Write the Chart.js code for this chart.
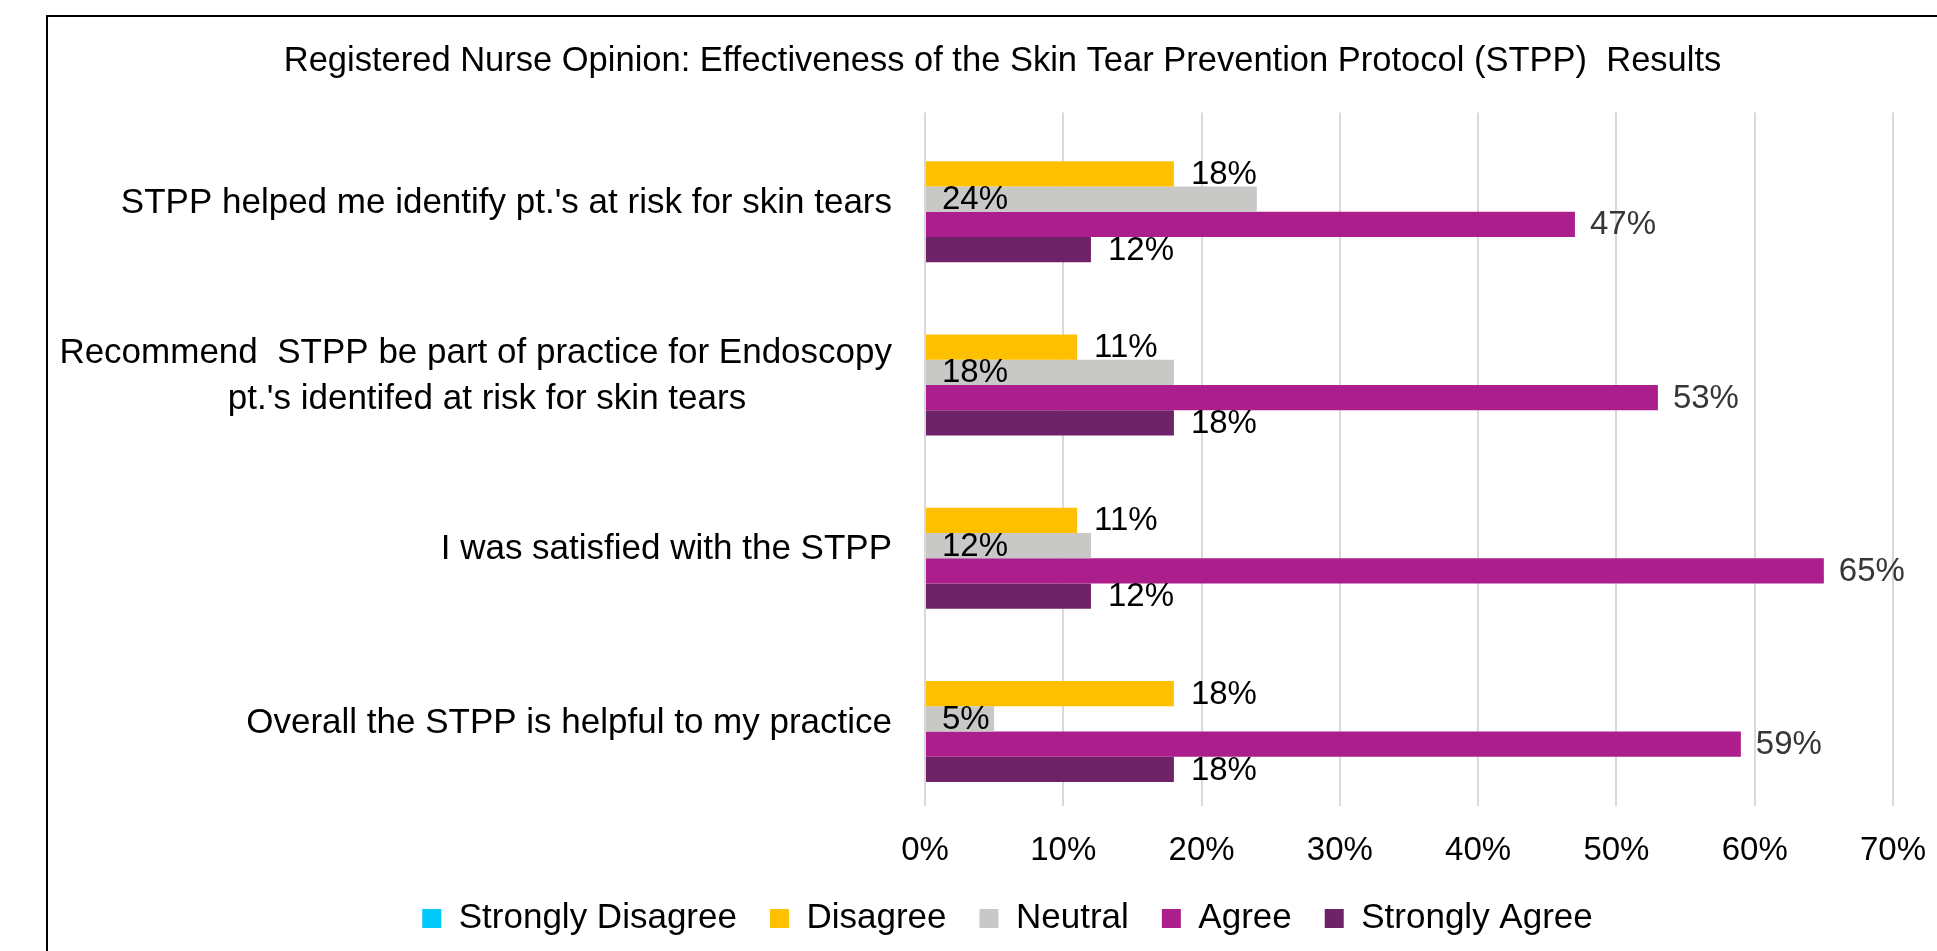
<!DOCTYPE html>
<html>
<head>
<meta charset="utf-8">
<title>STPP Results</title>
<script src="https://cdn.jsdelivr.net/npm/chart.js@4.4.1/dist/chart.umd.min.js"></script>
<style>
    html, body { margin: 0; padding: 0; background: #fff; overflow: hidden; }
    #frame { position: absolute; left: 46px; top: 15px; width: 2000px; height: 1000px; border: 2px solid #000; }
    #wrap { position: absolute; left: 0; top: 0; width: 1937px; height: 951px; }
</style>
</head>
<body>
<div id="frame"></div>
<div id="wrap"><canvas id="chart" width="1937" height="951"></canvas></div>
<script>
const titleText = 'Registered Nurse Opinion: Effectiveness of the Skin Tear Prevention Protocol (STPP)  Results';

const categories = [
    ["STPP helped me identify pt.'s at risk for skin tears"],
    ['Recommend  STPP be part of practice for Endoscopy', "pt.'s identifed at risk for skin tears"],
    ['I was satisfied with the STPP'],
    ['Overall the STPP is helpful to my practice']
];
const seriesNames = ['Strongly Disagree', 'Disagree', 'Neutral', 'Agree', 'Strongly Agree'];
const stronglyDisagree = [0, 0, 0, 0];
const disagree = [18, 11, 11, 18];
const neutral = [24, 18, 12, 5];
const agree = [47, 53, 65, 59];
const stronglyAgree = [12, 18, 12, 18];
const xTicks = [0, 10, 20, 30, 40, 50, 60, 70];

const colors = ['#00C8FA', '#FFC000', '#C8C9C7', '#AB1E8C', '#6E2268'];
const FONT = '"Liberation Sans", Arial, sans-serif';

// value labels: neutral sits inside the bar base, the rest after the bar end
const barLabels = {
    id: 'barLabels',
    afterDatasetsDraw(chart) {
        const ctx = chart.ctx;
        const x0 = chart.scales.x.getPixelForValue(0);
        ctx.save();
        ctx.textBaseline = 'middle';
        ctx.textAlign = 'left';
        ctx.font = '33px ' + FONT;
        chart.data.datasets.forEach((ds, i) => {
            const meta = chart.getDatasetMeta(i);
            meta.data.forEach((bar, j) => {
                const v = ds.data[j];
                if (!v) return;
                let x = bar.x + 17;
                ctx.fillStyle = '#000';
                if (i === 2) x = x0 + 17;
                if (i === 3) { x = bar.x + 15; ctx.fillStyle = '#363636'; }
                ctx.fillText(v + '%', x, bar.y + 1);
            });
        });
        ctx.restore();
    }
};

// title and legend are centred a bit right of the canvas middle in the original
const shiftBlocks = {
    id: 'shiftBlocks',
    afterLayout(chart) {
        chart.titleBlock.left += 31;
        chart.titleBlock.right += 31;
        chart.legend.left += 36;
        chart.legend.right += 36;
    }
};

const seriesData = [stronglyDisagree, disagree, neutral, agree, stronglyAgree];

new Chart(document.getElementById('chart'), {
    type: 'bar',
    data: {
        labels: categories,
        datasets: seriesNames.map((name, i) => ({
            label: name,
            data: seriesData[i],
            backgroundColor: colors[i],
            borderWidth: 0,
            categoryPercentage: 0.729,
            barPercentage: 1.0
        }))
    },
    options: {
        indexAxis: 'y',
        responsive: false,
        animation: false,
        layout: { padding: { left: 50, right: 44, top: 0, bottom: 5 } },
        scales: {
            x: {
                min: 0,
                max: 70,
                afterBuildTicks: s => { s.ticks = xTicks.map(v => ({ value: v })); },
                afterFit: s => { s.height = 62.4; },
                grid: { color: '#D9D9D9', lineWidth: 2, drawTicks: true, tickLength: 15, tickColor: 'rgba(0,0,0,0)' },
                border: { display: false },
                ticks: {
                    padding: 11,
                    color: '#000',
                    font: { family: FONT, size: 33 },
                    callback: v => v + '%'
                }
            },
            y: {
                afterFit: s => { s.width = 875; },
                grid: { display: false, drawTicks: false },
                border: { display: false },
                ticks: {
                    padding: 33,
                    labelOffset: 4,
                    color: '#000',
                    font: { family: FONT, size: 35, lineHeight: 1.34 },
                    callback: function(v, i) {
                        const lines = categories[i];
                        if (lines.length < 2) return lines;
                        // second line of the wrapped label sits further left
                        return [lines[0], lines[1] + '\u00a0'.repeat(15)];
                    }
                }
            }
        },
        plugins: {
            title: {
                display: true,
                text: titleText,
                color: '#000',
                font: { family: FONT, size: 34.5, weight: 'normal' },
                padding: { top: 41, bottom: 30 }
            },
            legend: {
                position: 'bottom',
                labels: {
                    color: '#000',
                    boxWidth: 19,
                    boxHeight: 19,
                    padding: 33,
                    font: { family: FONT, size: 35 }
                }
            },
            tooltip: { enabled: false }
        }
    },
    plugins: [barLabels, shiftBlocks]
});
</script>
</body>
</html>
